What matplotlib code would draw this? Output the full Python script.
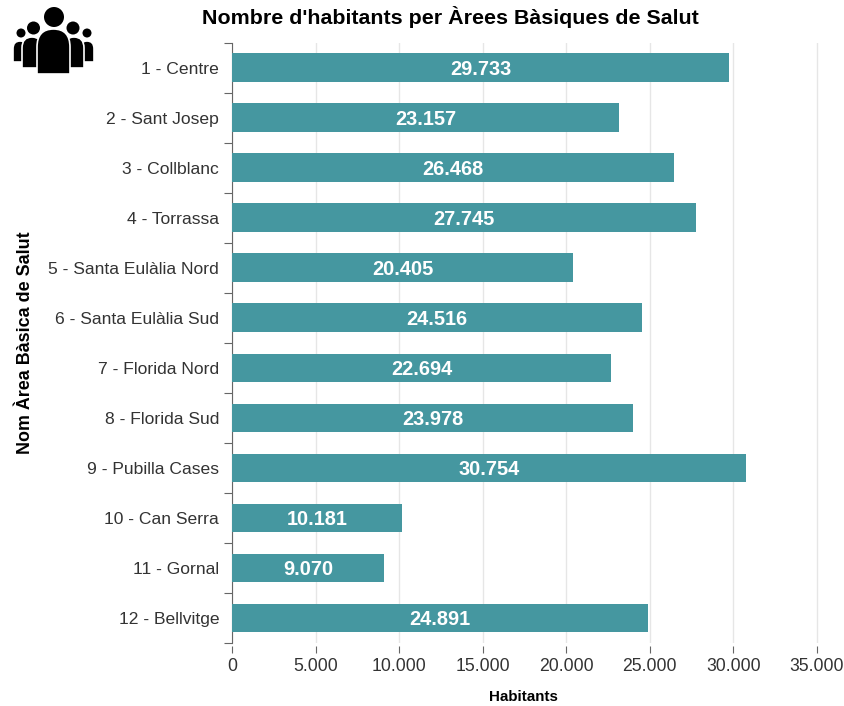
import matplotlib
matplotlib.use('Agg')
import matplotlib.pyplot as plt
from matplotlib.patches import Circle, PathPatch
from matplotlib.path import Path

areas = ['1 - Centre', '2 - Sant Josep', '3 - Collblanc', '4 - Torrassa', '5 - Santa Eulàlia Nord',
         '6 - Santa Eulàlia Sud', '7 - Florida Nord', '8 - Florida Sud', '9 - Pubilla Cases',
         '10 - Can Serra', '11 - Gornal', '12 - Bellvitge']
habitants = [29733, 23157, 26468, 27745, 20405, 24516, 22694, 23978, 30754, 10181, 9070, 24891]
xticks = [0, 5000, 10000, 15000, 20000, 25000, 30000, 35000]

W, H = 845, 706
plt.rcParams['font.family'] = ['Liberation Sans', 'DejaVu Sans']


def fmt(v):
    return f'{v:,}'.replace(',', '.')


def arch(x0, x1, top, bottom):
    # body of a person in the icon: round shoulders, flat bottom
    s = (top + (x1 - x0) * 0.55)
    verts = [(x0, bottom), (x0, s), (x0, top), ((x0 + x1) / 2, top), (x1, top), (x1, s), (x1, bottom), (x0, bottom)]
    codes = [Path.MOVETO, Path.LINETO, Path.CURVE3, Path.CURVE3, Path.CURVE3, Path.CURVE3, Path.LINETO, Path.CLOSEPOLY]
    return Path(verts, codes)


fig = plt.figure(figsize=(W / 100, H / 100), dpi=100)
ax = fig.add_axes([232.4 / W, 1 - 643 / H, (845 - 232.4) / W, (643 - 42.5) / H])

# has to come before the ticks are styled, moving a spine resets them
ax.spines['bottom'].set_position(('outward', 2))
ax.spines['bottom'].set_visible(False)
ax.spines['top'].set_visible(False)
ax.spines['right'].set_visible(False)
ax.spines['left'].set_color('#666666')

y = list(range(len(areas)))
ax.barh(y, habitants, height=0.57, color='#4597a0', zorder=3)
for i, v in zip(y, habitants):
    ax.text(v / 2, i, fmt(v), color='white', fontsize=14.4, fontweight='bold',
            ha='center', va='center_baseline', zorder=4)

ax.set_xlim(0, 36700)
ax.set_ylim(len(areas) - 0.5, -0.5)

# ticks between the categories on y, labels centred on the bars
ax.set_yticks([i - 0.5 for i in range(len(areas) + 1)])
ax.set_yticklabels([])
ax.set_yticks(y, minor=True)
ax.set_yticklabels(areas, minor=True, fontsize=12.6, color='#333333')
ax.tick_params(axis='y', which='minor', length=0, pad=9.5)
ax.tick_params(axis='y', which='major', length=6, color='#666666')

ax.set_xticks(xticks)
ax.set_xticklabels([fmt(t) for t in xticks], fontsize=12.7, color='#333333')
ax.tick_params(axis='x', length=5, color='#666666', pad=4)
ax.grid(axis='x', color='#e6e6e6', linewidth=1, zorder=0)

fig.text(450 / W, 1 - 17 / H, "Nombre d'habitants per Àrees Bàsiques de Salut", fontsize=15.4,
         fontweight='bold', ha='center', va='center', color='black')
fig.text(523 / W, 1 - 697 / H, 'Habitants', fontsize=10.9, fontweight='bold', ha='center', va='center')
fig.text(26 / W, 1 - 343 / H, 'Nom Àrea Bàsica de Salut', fontsize=12.9, fontweight='bold', rotation=90,
         ha='center', va='center')

# people icon top left, drawn in pixel coordinates
icon = fig.add_axes([0, 1 - 80 / H, 100 / W, 80 / H])
icon.set_xlim(0, 100)
icon.set_ylim(80, 0)
icon.axis('off')
for cx, cy, r, x0, x1, top, bottom, z in [(21, 33, 4.5, 13, 27, 41, 62, 1), (87, 33, 4.5, 80, 94, 41, 62, 1),
                                          (33.5, 28, 6.5, 22, 42, 37, 68, 2), (73, 28, 6.5, 64, 84, 37, 68, 2),
                                          (54, 17, 10, 37, 70, 29, 74, 3)]:
    icon.add_patch(Circle((cx, cy), r, fc='black', ec='none', zorder=z))
    icon.add_patch(PathPatch(arch(x0, x1, top, bottom), fc='black', ec='white', lw=1.2, zorder=z))

fig.savefig('out.png', dpi=100)
